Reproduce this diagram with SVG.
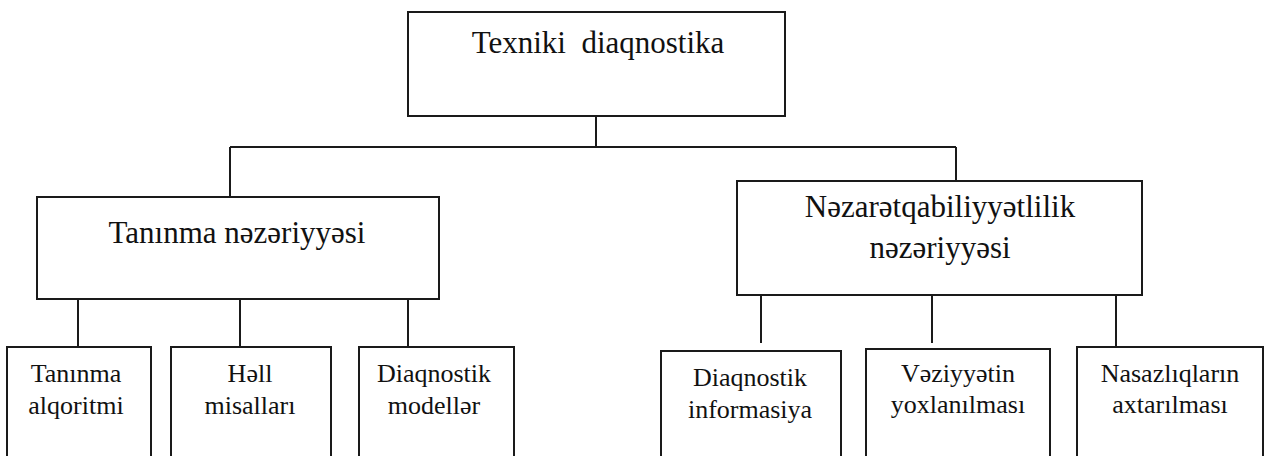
<svg xmlns="http://www.w3.org/2000/svg" width="1265" height="456" viewBox="0 0 1265 456">
<style>
.box{fill:#fff;stroke:#1a1a1a;stroke-width:2}
.ln{fill:none;stroke:#1a1a1a;stroke-width:2}
text{fill:#111;text-anchor:middle}
</style>
<rect width="1265" height="456" fill="#fff"/>
<g id="connectors">
<path class="ln" d="M596,116 V147 M230,147 H956 M230,147 V197 M956,147 V181"/>
<path class="ln" d="M78,295 V347 M240,299 V351 M408,299 V349"/>
<path class="ln" d="M761,295 V343 M932,295 V343 M1116,295 V347"/>
</g>
<g id="n-top">
<rect class="box" x="408" y="12" width="377" height="104"/>
<text font-family="'Liberation Serif', serif" font-size="31" x="598" y="53" xml:space="preserve">Texniki  diaqnostika</text>
</g>
<g id="n-taninma">
<rect class="box" x="37" y="197" width="402" height="102"/>
<text font-family="'Liberation Serif', serif" font-size="31" x="237" y="243">Tanınma nəzəriyyəsi</text>
</g>
<g id="n-nezaret">
<rect class="box" x="737" y="181" width="405" height="114"/>
<text font-family="'Liberation Serif', serif" font-size="31" x="940" y="217">Nəzarətqabiliyyətlilik</text>
<text font-family="'Liberation Serif', serif" font-size="31" x="940" y="258">nəzəriyyəsi</text>
</g>
<g id="n-alqoritm">
<rect class="box" x="7" y="347" width="144" height="120"/>
<text font-family="'Liberation Serif', serif" font-size="26" x="76" y="382">Tanınma</text>
<text font-family="'Liberation Serif', serif" font-size="26" x="76" y="414">alqoritmi</text>
</g>
<g id="n-hell">
<rect class="box" x="171" y="347" width="160" height="120"/>
<text font-family="'Liberation Serif', serif" font-size="26" x="250" y="382">Həll</text>
<text font-family="'Liberation Serif', serif" font-size="26" x="250" y="414">misalları</text>
</g>
<g id="n-modeller">
<rect class="box" x="359" y="347" width="155" height="120"/>
<text font-family="'Liberation Serif', serif" font-size="26" x="434" y="382">Diaqnostik</text>
<text font-family="'Liberation Serif', serif" font-size="26" x="434" y="414">modellər</text>
</g>
<g id="n-informasiya">
<rect class="box" x="661" y="351" width="180" height="120"/>
<text font-family="'Liberation Serif', serif" font-size="26" x="750" y="386">Diaqnostik</text>
<text font-family="'Liberation Serif', serif" font-size="26" x="750" y="418">informasiya</text>
</g>
<g id="n-veziyyet">
<rect class="box" x="866" y="349" width="184" height="120"/>
<text font-family="'Liberation Serif', serif" font-size="26" x="958" y="382">Vəziyyətin</text>
<text font-family="'Liberation Serif', serif" font-size="26" x="958" y="413">yoxlanılması</text>
</g>
<g id="n-nasazliq">
<rect class="box" x="1077" y="347" width="186" height="120"/>
<text font-family="'Liberation Serif', serif" font-size="26" x="1170" y="382">Nasazlıqların</text>
<text font-family="'Liberation Serif', serif" font-size="26" x="1170" y="413">axtarılması</text>
</g>
</svg>
